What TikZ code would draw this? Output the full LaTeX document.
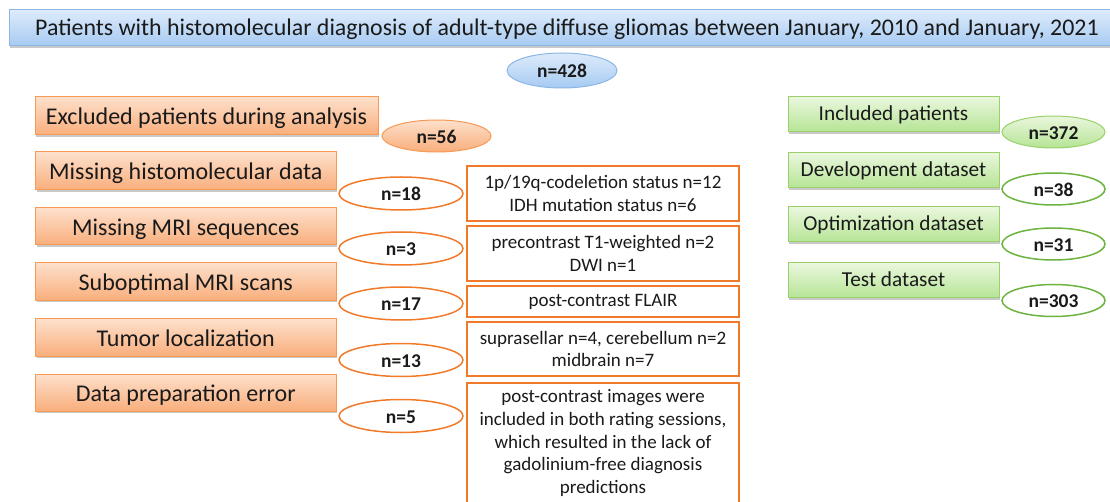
\documentclass[tikz,border=0pt]{standalone}
\usepackage{fontspec}
\setmainfont{Carlito}
\usetikzlibrary{shapes.geometric,shadows}
\definecolor{orTop}{HTML}{FDE0CB}
\definecolor{orBot}{HTML}{F9AE7C}
\definecolor{orLine}{HTML}{F79A55}
\definecolor{orDark}{HTML}{F07A2A}
\definecolor{grTop}{HTML}{EAF7DD}
\definecolor{grBot}{HTML}{B5E495}
\definecolor{grLine}{HTML}{9BD06A}
\definecolor{grDark}{HTML}{6DB33F}
\definecolor{blTop}{HTML}{DDEBFB}
\definecolor{blBot}{HTML}{A6CAF2}
\definecolor{blLine}{HTML}{8DB6E6}
\definecolor{txt}{HTML}{1A1A1A}
\tikzset{
  shad/.style={drop shadow={opacity=0.35,shadow xshift=1pt,shadow yshift=-2pt,fill=black!60}},
  titlebox/.style={rectangle,draw=blLine,line width=1pt,top color=blTop,bottom color=blBot,
    shad,minimum width=1116pt,minimum height=36pt,inner sep=0pt,text height=16pt,text depth=0pt,
    font=\fontsize{23.9}{27}\selectfont,text=txt},
  orbox/.style={rectangle,draw=orLine,line width=1pt,top color=orTop,bottom color=orBot,
    shad,minimum height=38pt,inner sep=0pt,text height=18pt,text depth=0pt,
    font=\fontsize{24}{27}\selectfont,text=txt},
  grbox/.style={rectangle,draw=grLine,line width=1pt,top color=grTop,bottom color=grBot,
    shad,minimum width=211pt,minimum height=35pt,inner sep=0pt,text height=13pt,text depth=0pt,
    font=\fontsize{21.3}{24}\selectfont,text=txt},
  wbox/.style={rectangle,draw=orDark,line width=1.6pt,fill=white,minimum width=272pt,
    inner sep=0pt,align=center,font=\fontsize{19}{22.8}\selectfont,text=txt},
  nfill/.style={ellipse,line width=1pt,inner sep=0pt,text height=15pt,text depth=0pt,
    font=\fontsize{19.5}{21}\selectfont\bfseries,text=txt},
  nor/.style={nfill,draw=orLine,top color=orTop,bottom color=orBot},
  norw/.style={nfill,draw=orDark,line width=1.5pt,fill=white,minimum width=124pt,minimum height=33pt},
  ngr/.style={nfill,draw=grLine,top color=grTop,bottom color=grBot},
  ngrw/.style={nfill,draw=grDark,line width=1.5pt,fill=white,minimum width=103pt,minimum height=32pt},
  nbl/.style={nfill,draw=blLine,top color=blTop,bottom color=blBot},
}
\begin{document}
\begin{tikzpicture}[x=1pt,y=-1pt]
\useasboundingbox[fill=white] (0,0) rectangle (1110,502);
% title
\node[titlebox] (title) at (567,28) {Patients with histomolecular diagnosis of adult-type diffuse gliomas between January, 2010 and January, 2021};
\node[nbl,minimum width=110pt,minimum height=35pt] (n428) at (562,70.5) {n=428};
% left column
\node[orbox,minimum width=343pt] (excl) at (206.5,116) {Excluded patients during analysis};
\node[nor,minimum width=109pt,minimum height=32pt] (n56) at (436.5,136) {n=56};
\node[orbox,minimum width=300.5pt] (hist) at (185.75,171) {Missing histomolecular data};
\node[orbox,minimum width=300.5pt,minimum height=37pt] (mri) at (185.75,226.5) {Missing MRI sequences};
\node[orbox,minimum width=300.5pt] (subopt) at (185.75,281.5) {Suboptimal MRI scans};
\node[orbox,minimum width=300.5pt,minimum height=37pt] (tumor) at (185.75,337.5) {Tumor localization};
\node[orbox,minimum width=300.5pt,minimum height=37pt] (prep) at (185.75,392.5) {Data preparation error};
% counts
\node[norw] (n18) at (401,193.5) {n=18};
\node[norw] (n3) at (401,248.5) {n=3};
\node[norw] (n17) at (401,303.5) {n=17};
\node[norw] (n13) at (401,360) {n=13};
\node[norw] (n5) at (401,416) {n=5};
% details
\node[wbox,minimum height=55pt] (d1) at (603,193.5) {1p/19q-codeletion status n=12\\IDH mutation status n=6};
\node[wbox,minimum height=55pt] (d2) at (603,253.5) {precontrast T1-weighted n=2\\DWI n=1};
\node[wbox,minimum height=31pt] (d3) at (603,301.5) {post-contrast FLAIR};
\node[wbox,minimum height=54pt] (d4) at (603,349) {suprasellar n=4, cerebellum n=2\\midbrain n=7};
\node[wbox,minimum height=140pt,anchor=north] (d5) at (603,382) {};
\node[align=center,font=\fontsize{19}{22.8}\selectfont,text=txt] (d5t) at (603,443) {post-contrast images were\\included in both rating sessions,\\which resulted in the lack of\\gadolinium-free diagnosis\\predictions};
% right column
\node[grbox] (incl) at (893.5,114.5) {Included patients};
\node[ngr,minimum width=103pt,minimum height=32pt] (n372) at (1053.5,132) {n=372};
\node[grbox] (dev) at (893.5,170.5) {Development dataset};
\node[ngrw] (n38) at (1053.5,189) {n=38};
\node[grbox] (opt) at (893.5,224.5) {Optimization dataset};
\node[ngrw] (n31) at (1053.5,244) {n=31};
\node[grbox] (test) at (893.5,280.5) {Test dataset};
\node[ngrw] (n303) at (1053.5,300.5) {n=303};
\end{tikzpicture}
\end{document}
